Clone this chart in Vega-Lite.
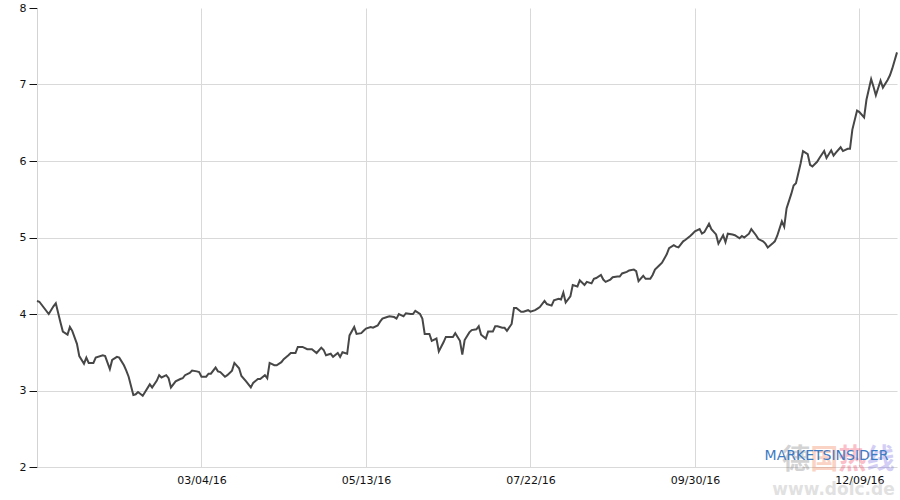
{
  "$schema": "https://vega.github.io/schema/vega-lite/v6.json",
  "width": 860,
  "height": 459,
  "autosize": {"type": "none"},
  "padding": {"left": 37, "top": 8, "right": 3, "bottom": 33},
  "background": "white",
  "config": {
    "view": {"stroke": null},
    "axis": {"labelFont": "DejaVu Sans", "labelFontSize": 11, "labelColor": "#111", "gridColor": "#d9d9d9", "domainColor": "#d3d3d3"}
  },
  "layer": [
    {
      "data": {"values": [
        {"d":"2015-12-25","v":4.17},{"d":"2015-12-26","v":4.16},{"d":"2015-12-30","v":4.00},{"d":"2016-01-01","v":4.10},{"d":"2016-01-02","v":4.14},
        {"d":"2016-01-04","v":3.89},{"d":"2016-01-05","v":3.77},{"d":"2016-01-07","v":3.73},{"d":"2016-01-08","v":3.83},{"d":"2016-01-09","v":3.78},
        {"d":"2016-01-11","v":3.61},{"d":"2016-01-12","v":3.45},{"d":"2016-01-14","v":3.35},{"d":"2016-01-15","v":3.43},{"d":"2016-01-16","v":3.36},
        {"d":"2016-01-18","v":3.36},{"d":"2016-01-19","v":3.43},{"d":"2016-01-22","v":3.46},{"d":"2016-01-23","v":3.45},{"d":"2016-01-25","v":3.28},
        {"d":"2016-01-26","v":3.40},{"d":"2016-01-28","v":3.44},{"d":"2016-01-29","v":3.43},{"d":"2016-01-31","v":3.33},{"d":"2016-02-01","v":3.26},
        {"d":"2016-02-02","v":3.18},{"d":"2016-02-04","v":2.94},{"d":"2016-02-05","v":2.95},{"d":"2016-02-06","v":2.98},{"d":"2016-02-08","v":2.93},
        {"d":"2016-02-09","v":2.98},{"d":"2016-02-11","v":3.08},{"d":"2016-02-12","v":3.04},{"d":"2016-02-14","v":3.13},{"d":"2016-02-15","v":3.20},
        {"d":"2016-02-16","v":3.17},{"d":"2016-02-18","v":3.20},{"d":"2016-02-19","v":3.16},{"d":"2016-02-20","v":3.04},{"d":"2016-02-22","v":3.12},
        {"d":"2016-02-24","v":3.15},{"d":"2016-02-25","v":3.16},{"d":"2016-02-26","v":3.20},{"d":"2016-02-28","v":3.23},{"d":"2016-02-29","v":3.26},
        {"d":"2016-03-02","v":3.25},{"d":"2016-03-03","v":3.24},{"d":"2016-03-04","v":3.18},{"d":"2016-03-06","v":3.18},{"d":"2016-03-07","v":3.22},
        {"d":"2016-03-08","v":3.22},{"d":"2016-03-10","v":3.30},{"d":"2016-03-11","v":3.25},{"d":"2016-03-12","v":3.24},{"d":"2016-03-14","v":3.18},
        {"d":"2016-03-15","v":3.20},{"d":"2016-03-17","v":3.26},{"d":"2016-03-18","v":3.36},{"d":"2016-03-20","v":3.29},{"d":"2016-03-21","v":3.19},
        {"d":"2016-03-23","v":3.12},{"d":"2016-03-25","v":3.04},{"d":"2016-03-26","v":3.10},{"d":"2016-03-28","v":3.15},{"d":"2016-03-29","v":3.15},
        {"d":"2016-03-31","v":3.20},{"d":"2016-04-01","v":3.16},{"d":"2016-04-02","v":3.36},{"d":"2016-04-04","v":3.33},{"d":"2016-04-05","v":3.33},
        {"d":"2016-04-07","v":3.37},{"d":"2016-04-08","v":3.41},{"d":"2016-04-10","v":3.46},{"d":"2016-04-11","v":3.49},{"d":"2016-04-13","v":3.49},
        {"d":"2016-04-14","v":3.57},{"d":"2016-04-16","v":3.57},{"d":"2016-04-18","v":3.54},{"d":"2016-04-20","v":3.54},{"d":"2016-04-22","v":3.49},
        {"d":"2016-04-24","v":3.56},{"d":"2016-04-25","v":3.53},{"d":"2016-04-26","v":3.46},{"d":"2016-04-28","v":3.48},{"d":"2016-04-29","v":3.44},
        {"d":"2016-05-01","v":3.49},{"d":"2016-05-02","v":3.44},{"d":"2016-05-03","v":3.50},{"d":"2016-05-05","v":3.48},{"d":"2016-05-06","v":3.72},
        {"d":"2016-05-08","v":3.83},{"d":"2016-05-09","v":3.74},{"d":"2016-05-11","v":3.75},{"d":"2016-05-12","v":3.78},{"d":"2016-05-13","v":3.81},
        {"d":"2016-05-15","v":3.83},{"d":"2016-05-16","v":3.82},{"d":"2016-05-18","v":3.85},{"d":"2016-05-19","v":3.90},{"d":"2016-05-20","v":3.94},
        {"d":"2016-05-22","v":3.96},{"d":"2016-05-23","v":3.97},{"d":"2016-05-25","v":3.96},{"d":"2016-05-26","v":3.94},{"d":"2016-05-27","v":4.00},
        {"d":"2016-05-29","v":3.97},{"d":"2016-05-30","v":4.01},{"d":"2016-06-01","v":4.00},{"d":"2016-06-02","v":4.00},{"d":"2016-06-03","v":4.04},
        {"d":"2016-06-05","v":4.00},{"d":"2016-06-06","v":3.94},{"d":"2016-06-07","v":3.74},{"d":"2016-06-09","v":3.74},{"d":"2016-06-10","v":3.65},
        {"d":"2016-06-12","v":3.68},{"d":"2016-06-13","v":3.51},{"d":"2016-06-15","v":3.63},{"d":"2016-06-16","v":3.70},{"d":"2016-06-17","v":3.70},
        {"d":"2016-06-19","v":3.70},{"d":"2016-06-20","v":3.75},{"d":"2016-06-22","v":3.65},{"d":"2016-06-23","v":3.47},{"d":"2016-06-24","v":3.66},
        {"d":"2016-06-26","v":3.76},{"d":"2016-06-27","v":3.79},{"d":"2016-06-29","v":3.80},{"d":"2016-06-30","v":3.84},{"d":"2016-07-01","v":3.73},
        {"d":"2016-07-03","v":3.68},{"d":"2016-07-04","v":3.77},{"d":"2016-07-06","v":3.77},{"d":"2016-07-07","v":3.84},{"d":"2016-07-08","v":3.84},
        {"d":"2016-07-10","v":3.82},{"d":"2016-07-11","v":3.82},{"d":"2016-07-12","v":3.78},{"d":"2016-07-14","v":3.87},{"d":"2016-07-15","v":4.08},
        {"d":"2016-07-16","v":4.08},{"d":"2016-07-18","v":4.03},{"d":"2016-07-19","v":4.03},{"d":"2016-07-21","v":4.05},{"d":"2016-07-22","v":4.03},
        {"d":"2016-07-24","v":4.05},{"d":"2016-07-25","v":4.07},{"d":"2016-07-26","v":4.09},{"d":"2016-07-28","v":4.17},{"d":"2016-07-29","v":4.13},
        {"d":"2016-07-31","v":4.11},{"d":"2016-08-01","v":4.18},{"d":"2016-08-03","v":4.20},{"d":"2016-08-04","v":4.19},{"d":"2016-08-05","v":4.28},
        {"d":"2016-08-06","v":4.15},{"d":"2016-08-08","v":4.23},{"d":"2016-08-09","v":4.38},{"d":"2016-08-11","v":4.36},{"d":"2016-08-12","v":4.44},
        {"d":"2016-08-14","v":4.38},{"d":"2016-08-15","v":4.42},{"d":"2016-08-17","v":4.40},{"d":"2016-08-18","v":4.46},{"d":"2016-08-19","v":4.47},
        {"d":"2016-08-21","v":4.51},{"d":"2016-08-22","v":4.45},{"d":"2016-08-23","v":4.42},{"d":"2016-08-25","v":4.45},{"d":"2016-08-26","v":4.48},
        {"d":"2016-08-28","v":4.49},{"d":"2016-08-29","v":4.49},{"d":"2016-08-30","v":4.53},{"d":"2016-09-01","v":4.55},{"d":"2016-09-02","v":4.57},
        {"d":"2016-09-04","v":4.58},{"d":"2016-09-05","v":4.56},{"d":"2016-09-06","v":4.43},{"d":"2016-09-08","v":4.50},{"d":"2016-09-09","v":4.46},
        {"d":"2016-09-11","v":4.46},{"d":"2016-09-12","v":4.51},{"d":"2016-09-13","v":4.58},{"d":"2016-09-15","v":4.64},{"d":"2016-09-16","v":4.67},
        {"d":"2016-09-18","v":4.78},{"d":"2016-09-19","v":4.86},{"d":"2016-09-21","v":4.90},{"d":"2016-09-22","v":4.88},{"d":"2016-09-23","v":4.87},
        {"d":"2016-09-25","v":4.95},{"d":"2016-09-26","v":4.97},{"d":"2016-09-28","v":5.02},{"d":"2016-09-29","v":5.05},{"d":"2016-09-30","v":5.08},
        {"d":"2016-10-02","v":5.11},{"d":"2016-10-03","v":5.05},{"d":"2016-10-04","v":5.07},{"d":"2016-10-06","v":5.18},{"d":"2016-10-07","v":5.11},
        {"d":"2016-10-09","v":5.04},{"d":"2016-10-10","v":4.92},{"d":"2016-10-12","v":5.03},{"d":"2016-10-13","v":4.94},{"d":"2016-10-14","v":5.05},
        {"d":"2016-10-16","v":5.04},{"d":"2016-10-17","v":5.03},{"d":"2016-10-19","v":4.99},{"d":"2016-10-20","v":5.02},{"d":"2016-10-21","v":5.00},
        {"d":"2016-10-23","v":5.05},{"d":"2016-10-24","v":5.11},{"d":"2016-10-26","v":5.03},{"d":"2016-10-27","v":4.98},{"d":"2016-10-29","v":4.95},
        {"d":"2016-10-30","v":4.92},{"d":"2016-10-31","v":4.87},{"d":"2016-11-02","v":4.92},{"d":"2016-11-03","v":4.95},{"d":"2016-11-04","v":5.02},
        {"d":"2016-11-06","v":5.21},{"d":"2016-11-07","v":5.14},{"d":"2016-11-08","v":5.38},{"d":"2016-11-10","v":5.57},{"d":"2016-11-11","v":5.68},
        {"d":"2016-11-12","v":5.71},{"d":"2016-11-14","v":5.97},{"d":"2016-11-15","v":6.13},{"d":"2016-11-17","v":6.09},{"d":"2016-11-18","v":5.95},
        {"d":"2016-11-19","v":5.93},{"d":"2016-11-21","v":5.99},{"d":"2016-11-22","v":6.04},{"d":"2016-11-24","v":6.13},{"d":"2016-11-25","v":6.04},
        {"d":"2016-11-27","v":6.14},{"d":"2016-11-28","v":6.07},{"d":"2016-11-29","v":6.11},{"d":"2016-12-01","v":6.18},{"d":"2016-12-02","v":6.13},
        {"d":"2016-12-04","v":6.16},{"d":"2016-12-05","v":6.16},{"d":"2016-12-06","v":6.41},{"d":"2016-12-08","v":6.66},{"d":"2016-12-09","v":6.64},
        {"d":"2016-12-11","v":6.57},{"d":"2016-12-12","v":6.80},{"d":"2016-12-14","v":7.07},{"d":"2016-12-15","v":6.97},{"d":"2016-12-16","v":6.86},
        {"d":"2016-12-18","v":7.05},{"d":"2016-12-19","v":6.96},{"d":"2016-12-21","v":7.06},{"d":"2016-12-22","v":7.12},{"d":"2016-12-23","v":7.21},
        {"d":"2016-12-25","v":7.42}
      ]},
      "mark": {"type": "line", "color": "#474747", "strokeWidth": 2},
      "encoding": {
        "x": {
          "field": "d", "type": "temporal",
          "scale": {"type": "utc", "domain": [{"year": 2015, "month": 12, "date": 25, "utc": true}, {"year": 2016, "month": 12, "date": 25, "utc": true}]},
          "axis": {
            "title": null, "format": "%m/%d/%y", "ticks": false, "domain": false, "grid": true, "labelPadding": 7, "labelFlush": false,
            "values": [
              {"year": 2016, "month": 3, "date": 4, "utc": true},
              {"year": 2016, "month": 5, "date": 13, "utc": true},
              {"year": 2016, "month": 7, "date": 22, "utc": true},
              {"year": 2016, "month": 9, "date": 30, "utc": true},
              {"year": 2016, "month": 12, "date": 9, "utc": true}
            ]
          }
        },
        "y": {
          "field": "v", "type": "quantitative",
          "scale": {"domain": [2, 8], "nice": false, "zero": false},
          "axis": {
            "title": null, "format": "d", "values": [2, 3, 4, 5, 6, 7, 8], "tickColor": "#111", "tickSize": 8, "labelPadding": 3,
            "gridOpacity": {"condition": {"test": "datum.value == 8", "value": 0}, "value": 1}
          }
        }
      }
    },
    {
      "data": {"values": [{"d": "2016-11-12", "v": 2.08, "t": "德"}, {"d": "2016-11-24", "v": 2.08, "t": "国"}, {"d": "2016-12-06", "v": 2.08, "t": "热"}, {"d": "2016-12-18", "v": 2.08, "t": "线"}]},
      "mark": {"type": "text", "font": "Noto Sans CJK SC", "fontSize": 28, "fontWeight": "bold", "opacity": 0.3, "align": "center", "baseline": "middle"},
      "encoding": {
        "x": {"field": "d", "type": "temporal"},
        "y": {"field": "v", "type": "quantitative"},
        "text": {"field": "t"},
        "color": {"field": "t", "type": "nominal", "legend": null, "scale": {"domain": ["德", "国", "热", "线"], "range": ["#707070", "#f07040", "#f03050", "#7060e0"]}}
      }
    },
    {
      "data": {"values": [{"d": "2016-11-28", "v": 1.7, "t": "www.dolc.de"}]},
      "mark": {"type": "text", "font": "DejaVu Sans", "fontSize": 17, "fontWeight": "bold", "color": "#aaa", "opacity": 0.35, "align": "center", "baseline": "middle"},
      "encoding": {
        "x": {"field": "d", "type": "temporal"},
        "y": {"field": "v", "type": "quantitative"},
        "text": {"field": "t"}
      }
    },
    {
      "data": {"values": [{"d": "2016-11-25", "v": 2.15, "t": "MARKETSINSIDER"}]},
      "mark": {"type": "text", "font": "DejaVu Sans", "fontSize": 14, "color": "#3f7bc2", "align": "center", "baseline": "middle"},
      "encoding": {
        "x": {"field": "d", "type": "temporal"},
        "y": {"field": "v", "type": "quantitative"},
        "text": {"field": "t"}
      }
    }
  ]
}
